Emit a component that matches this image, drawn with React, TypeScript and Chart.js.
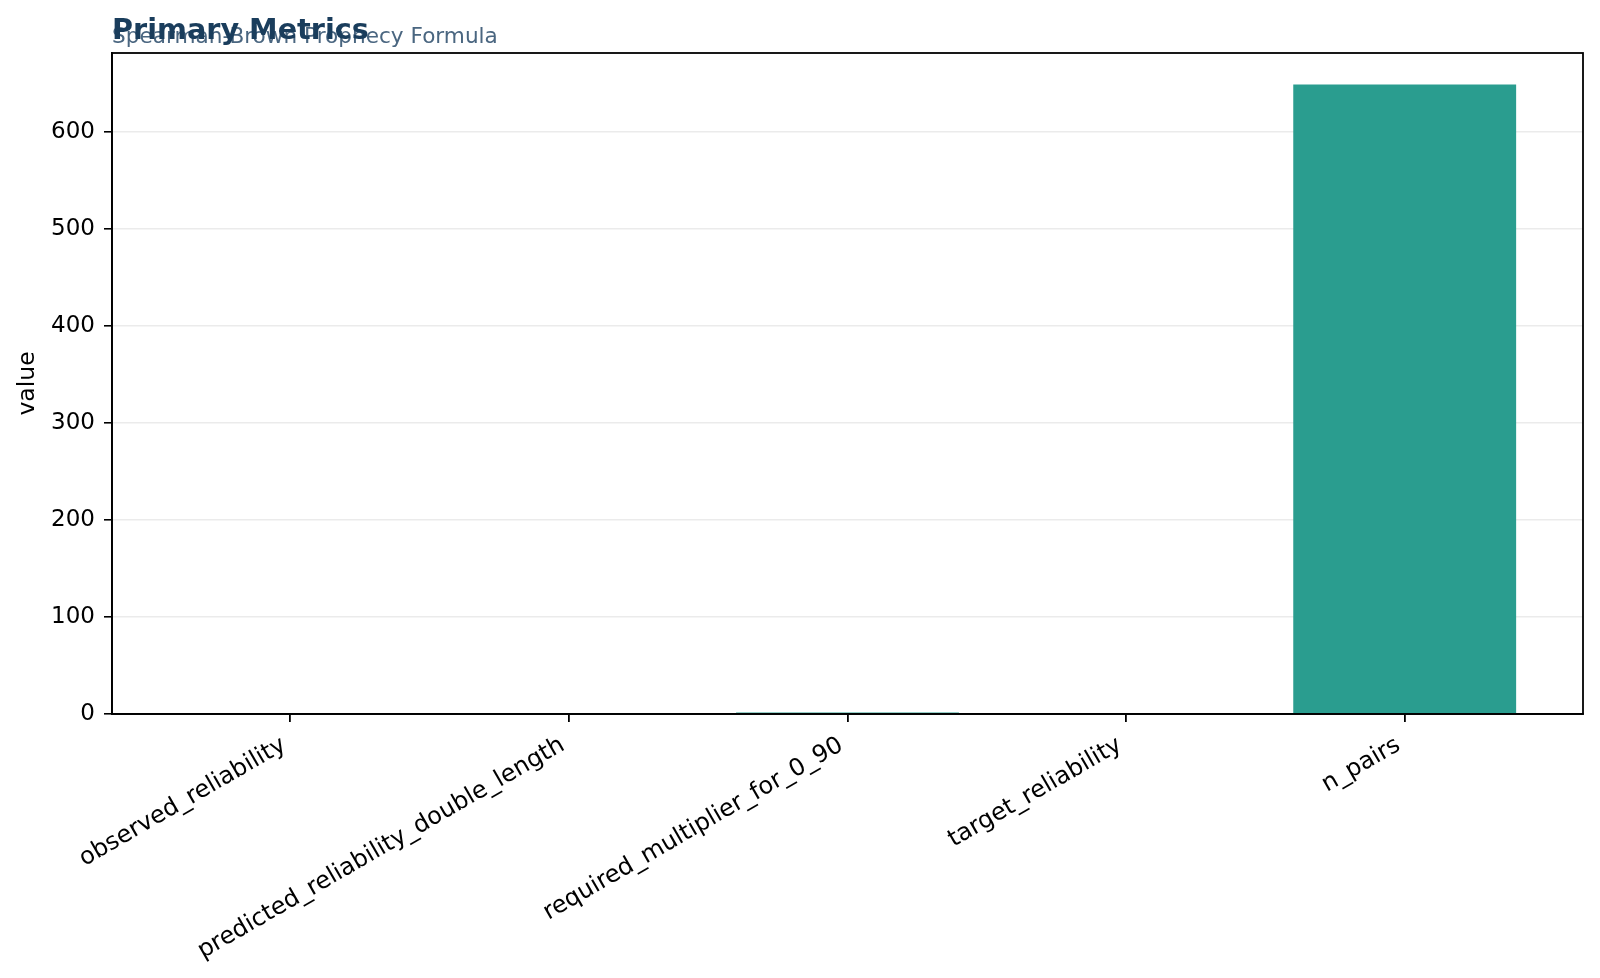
import { useEffect, useRef } from 'react';
import { Chart, registerables, Plugin } from 'chart.js';

Chart.register(...registerables);

const categories = [
  'observed_reliability',
  'predicted_reliability_double_length',
  'required_multiplier_for_0_90',
  'target_reliability',
  'n_pairs',
];
const values = [0.85, 0.92, 1.59, 0.9, 649];
const yTicks = [0, 100, 200, 300, 400, 500, 600];

const FONT = "'DejaVu Sans', sans-serif";

const frameAndTitles: Plugin<'bar'> = {
  id: 'frameAndTitles',
  afterDraw(chart) {
    const { ctx, chartArea } = chart;
    const { left, top, right, bottom } = chartArea;
    const xScale = chart.scales.x;
    ctx.save();
    // full box like matplotlib spines
    ctx.strokeStyle = '#000';
    ctx.lineWidth = 1.8;
    ctx.strokeRect(left, top, right - left, bottom - top);

    // rotated category labels, right/top anchored at each tick (matplotlib style)
    ctx.fillStyle = '#000';
    ctx.font = `24px ${FONT}`;
    ctx.textAlign = 'right';
    ctx.textBaseline = 'alphabetic';
    categories.forEach((label, i) => {
      const px = xScale.getPixelForValue(i);
      ctx.save();
      ctx.translate(px - 3, bottom + 35);
      ctx.rotate(-Math.PI / 6);
      ctx.fillText(label, 0, 0);
      ctx.restore();
    });

    ctx.textAlign = 'left';
    ctx.fillStyle = '#4a6680';
    ctx.font = `21.6px ${FONT}`;
    ctx.fillText('Spearman-Brown Prophecy Formula', left, 43);
    ctx.fillStyle = '#1a3d5c';
    ctx.font = `bold 28.7px ${FONT}`;
    ctx.fillText('Primary Metrics', left, 39);
    ctx.restore();
  },
};

export default function App() {
  const canvasRef = useRef<HTMLCanvasElement>(null);
  const chartRef = useRef<Chart | null>(null);

  useEffect(() => {
    if (!canvasRef.current) return;
    if (chartRef.current) chartRef.current.destroy();
    const ctx = canvasRef.current.getContext('2d');
    if (!ctx) return;

    chartRef.current = new Chart(ctx, {
      type: 'bar',
      data: {
        datasets: [
          {
            label: 'value',
            data: values.map((v, i) => ({ x: i, y: v })),
            backgroundColor: '#2a9d8f',
            borderWidth: 0,
            categoryPercentage: 1,
            barPercentage: 0.8,
          },
        ],
      },
      options: {
        animation: false,
        responsive: true,
        maintainAspectRatio: false,
        layout: { padding: { top: 53, right: 17, left: 0, bottom: 0 } },
        plugins: {
          legend: { display: false },
          tooltip: { enabled: false },
          title: { display: false },
        },
        scales: {
          x: {
            type: 'linear',
            min: -0.64,
            max: 4.64,
            offset: false,
            grid: {
              offset: false,
              drawOnChartArea: false,
              drawTicks: true,
              tickLength: 8,
              tickColor: '#000',
              lineWidth: 1.8,
            },
            border: { display: true, color: '#000', width: 1.8 },
            afterBuildTicks: (axis) => {
              axis.ticks = categories.map((_, i) => ({ value: i }));
            },
            afterFit: (axis) => {
              axis.height = 264;
              axis.paddingLeft = 0;
              axis.paddingRight = 0;
            },
            ticks: {
              display: false,
              autoSkip: false,
            },
          },
          y: {
            type: 'linear',
            min: 0,
            max: 681.5,
            grid: {
              color: '#ebebeb',
              lineWidth: 1.6,
              tickColor: '#000',
              tickLength: 8,
            },
            border: { display: true, color: '#000', width: 1.8 },
            afterBuildTicks: (axis) => {
              axis.ticks = yTicks.map((v) => ({ value: v }));
            },
            afterFit: (axis) => {
              axis.width = 112;
              axis.paddingTop = 0;
              axis.paddingBottom = 0;
            },
            ticks: {
              padding: 9,
              color: '#000',
              font: { family: FONT, size: 23 },
            },
            title: {
              display: true,
              text: 'value',
              color: '#000',
              padding: { top: 14, bottom: 0 },
              font: { family: FONT, size: 23.5 },
            },
          },
        },
      },
      plugins: [frameAndTitles],
    });

    return () => {
      if (chartRef.current) {
        chartRef.current.destroy();
        chartRef.current = null;
      }
    };
  }, []);

  return (
    <div style={{ position: 'fixed', left: 0, top: 0, width: 1600, height: 978, background: '#fff' }}>
      <canvas ref={canvasRef}></canvas>
    </div>
  );
}
